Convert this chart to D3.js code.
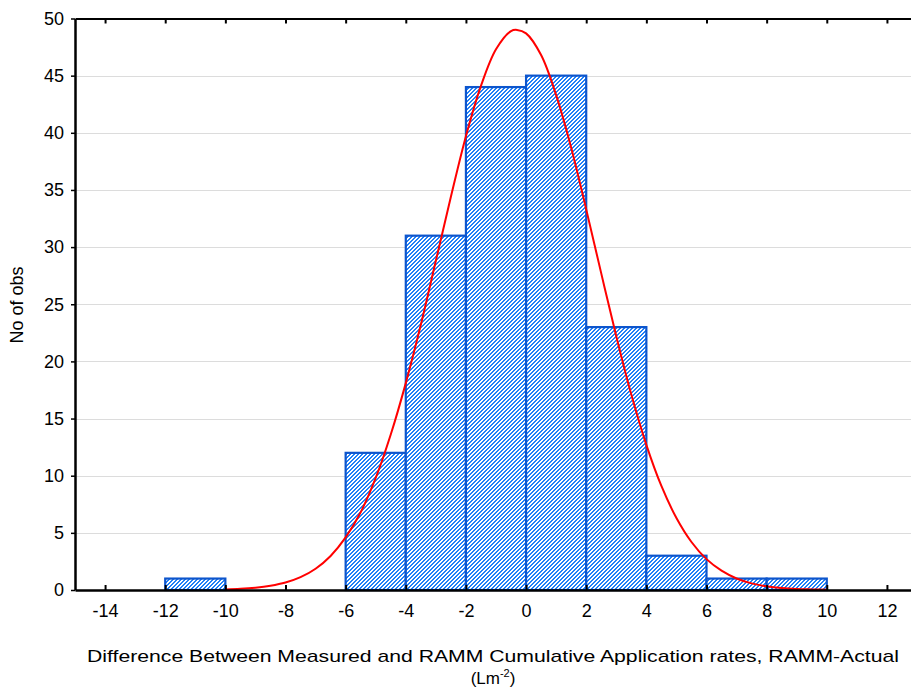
<!DOCTYPE html>
<html>
<head>
<meta charset="utf-8">
<script src="https://cdn.jsdelivr.net/npm/d3@7"></script>
<style>
  html, body { margin: 0; padding: 0; background: #fff; }
  svg { display: block; font-family: "Liberation Sans", Arial, sans-serif; }
</style>
</head>
<body>
<svg id="chart" width="911" height="691"></svg>
<script>
// ---- data ----
const binStarts = [-12, -10, -8, -6, -4, -2, 0, 2, 4, 6, 8];
const binCounts = [1, 0, 0, 12, 31, 44, 45, 23, 3, 1, 1];
const binWidth = 2;
const xTicks = [-14, -12, -10, -8, -6, -4, -2, 0, 2, 4, 6, 8, 10, 12];
const yTicks = [0, 5, 10, 15, 20, 25, 30, 35, 40, 45, 50];
// expected normal curve
const curveX = [-10, -9.5, -9, -8.5, -8, -7.5, -7, -6.5, -6, -5.5, -5, -4.5, -4, -3.5, -3, -2.5, -2, -1.5, -1, -0.5, -0.3, 0, 0.5, 1, 1.5, 2, 2.5, 3, 3.5, 4, 4.5, 5, 5.5, 6, 6.5, 7, 7.5, 8, 8.5, 9, 9.5, 10];
const curveY = [0.05, 0.1, 0.2, 0.37, 0.65, 1.12, 1.86, 2.98, 4.6, 6.8, 9.8, 13.6, 18.1, 23.2, 28.8, 34.4, 39.7, 44.1, 47.3, 48.9, 49.0, 48.7, 46.8, 43.3, 38.7, 33.3, 27.7, 22.2, 17.1, 12.7, 9.1, 6.3, 4.2, 2.7, 1.69, 1.01, 0.58, 0.32, 0.17, 0.09, 0.05, 0.02];
const xTitle = "Difference Between Measured and RAMM Cumulative Application rates, RAMM-Actual";
const yTitle = "No of obs";

// ---- layout ----
const svg = d3.select("#chart");
const mLeft = 75, mRight = 917, mTop = 18.5, mBottom = 590;
const x = d3.scaleLinear().domain([-15, 13]).range([mLeft, mRight]);
const y = d3.scaleLinear().domain([0, 50]).range([mBottom, mTop]);

// pixel hatch pattern (diagonal "////")
const defs = svg.append("defs");
const pat = defs.append("pattern")
  .attr("id", "hatch").attr("patternUnits", "userSpaceOnUse")
  .attr("width", 4).attr("height", 4);
pat.append("rect").attr("width", 4).attr("height", 4).attr("fill", "#fff");
const hatchCells = [];
for (let r = 0; r < 4; r++) {
  hatchCells.push([(3 - r) % 4, r]);
  hatchCells.push([(4 - r) % 4, r]);
}
pat.selectAll("rect.px").data(hatchCells).join("rect").attr("class", "px")
  .attr("x", d => d[0]).attr("y", d => d[1]).attr("width", 1).attr("height", 1)
  .attr("fill", "#2080f8").attr("shape-rendering", "crispEdges");

// gridlines
svg.append("g").selectAll("line").data(yTicks.filter(d => d > 0 && d < 50)).join("line")
  .attr("x1", mLeft).attr("x2", 911)
  .attr("y1", d => Math.round(y(d)) + 0.5).attr("y2", d => Math.round(y(d)) + 0.5)
  .attr("stroke", "#dcdcdc").attr("stroke-width", 1);

// bars
svg.append("g").selectAll("rect").data(binStarts.map((s, i) => ({ s, c: binCounts[i] })).filter(d => d.c > 0)).join("rect")
  .attr("x", d => x(d.s))
  .attr("width", d => x(d.s + binWidth) - x(d.s))
  .attr("y", d => y(d.c))
  .attr("height", d => y(0) - y(d.c))
  .attr("fill", "url(#hatch)")
  .attr("stroke", "#0d55cc").attr("stroke-width", 2.2);

// curve
svg.append("path")
  .datum(curveX.map((v, i) => [v, curveY[i]]))
  .attr("d", d3.line().x(d => x(d[0])).y(d => y(d[1])).curve(d3.curveCatmullRom))
  .attr("fill", "none").attr("stroke", "#ff0000").attr("stroke-width", 2);

const fmt = d => String(d);

// x axis (ticks inward)
const xAxis = svg.append("g").attr("transform", `translate(0,${mBottom})`)
  .call(d3.axisBottom(x).tickValues(xTicks).tickFormat(fmt).tickSizeInner(-5).tickSizeOuter(0).tickPadding(14));
xAxis.select(".domain").attr("stroke", "#000").attr("stroke-width", 2.5);
xAxis.selectAll(".tick line").attr("stroke", "#000").attr("stroke-width", 2);
xAxis.selectAll("text").attr("font-size", 18).attr("fill", "#000").attr("font-family", "Liberation Sans, Arial, sans-serif");

// top border with ticks
const topAxis = svg.append("g").attr("transform", `translate(0,${mTop})`)
  .call(d3.axisTop(x).tickValues(xTicks).tickSizeInner(-5).tickSizeOuter(0).tickFormat(""));
topAxis.select(".domain").attr("stroke", "#000").attr("stroke-width", 2);
topAxis.selectAll(".tick line").attr("stroke", "#000").attr("stroke-width", 2);

// y axis
const yAxis = svg.append("g").attr("transform", `translate(${mLeft},0)`)
  .call(d3.axisLeft(y).tickValues(yTicks).tickFormat(fmt).tickSizeInner(4).tickSizeOuter(0).tickPadding(7));
yAxis.select(".domain").attr("stroke", "#000").attr("stroke-width", 2.5);
yAxis.selectAll(".tick line").attr("stroke", "#000").attr("stroke-width", 1.5);
yAxis.selectAll("text").attr("font-size", 18).attr("fill", "#000").attr("font-family", "Liberation Sans, Arial, sans-serif");

// titles
svg.append("text").attr("x", 493).attr("y", 662).attr("text-anchor", "middle")
  .attr("font-size", 17).attr("textLength", 812).attr("lengthAdjust", "spacingAndGlyphs")
  .text(xTitle);
const unit = svg.append("text").attr("x", 493).attr("y", 684).attr("text-anchor", "middle").attr("font-size", 17);
unit.append("tspan").text("(Lm");
unit.append("tspan").attr("font-size", 11).attr("dy", -7).text("-2");
unit.append("tspan").attr("dy", 7).text(")");

svg.append("text").attr("transform", "translate(23,305) rotate(-90)")
  .attr("text-anchor", "middle").attr("font-size", 18).text(yTitle);
</script>
</body>
</html>
